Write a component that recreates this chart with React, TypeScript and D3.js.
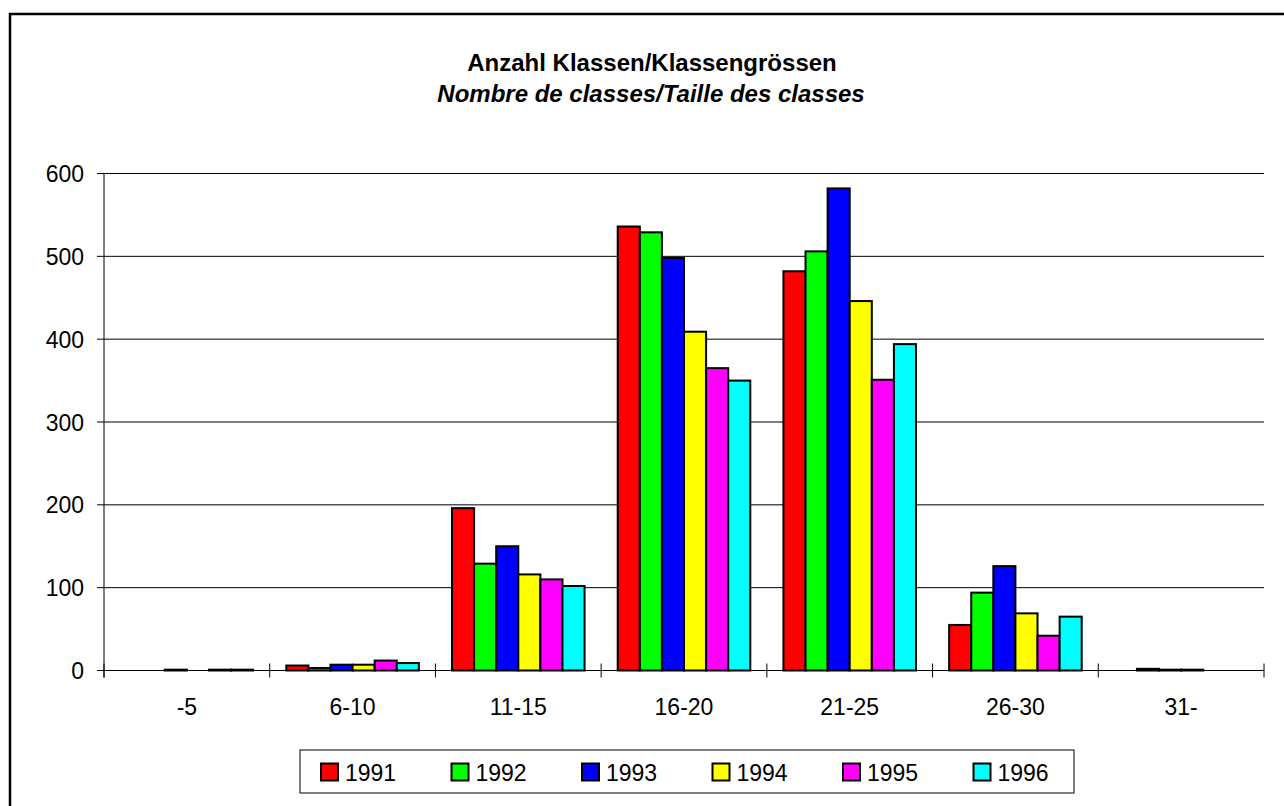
import React from 'react';
import * as d3 from 'd3';

const categories = ['-5', '6-10', '11-15', '16-20', '21-25', '26-30', '31-'];
const years = ['1991', '1992', '1993', '1994', '1995', '1996'];
const colors = ['#ff0000', '#00ff00', '#0000ff', '#ffff00', '#ff00ff', '#00ffff'];

const v1991 = [0, 6, 196, 536, 482, 55, 0];
const v1992 = [0, 3, 129, 529, 506, 94, 2];
const v1993 = [1, 7, 150, 498, 582, 126, 1];
const v1994 = [0, 7, 116, 409, 446, 69, 1];
const v1995 = [1, 12, 110, 365, 351, 42, 0];
const v1996 = [1, 9, 102, 350, 394, 65, 0];
const series = [v1991, v1992, v1993, v1994, v1995, v1996];
const yTicks = [0, 100, 200, 300, 400, 500, 600];

const W = 1284;
const H = 806;
const left = 104;
const right = 1264;
const top = 173.5;
const bottom = 670.5;
const font = 'Liberation Sans, Arial, Helvetica, sans-serif';
const fs = 23;

const App: React.FC = () => {
  const x0 = d3.scaleBand<string>().domain(categories).range([left, right]).padding(0);
  const bw = x0.bandwidth();
  const inset = bw * 0.1;
  const x1 = d3.scaleBand<string>().domain(years).range([inset, bw - inset]).padding(0);
  const y = d3.scaleLinear().domain([0, 600]).range([bottom, top]);

  const boundaries = categories.map(c => x0(c)!).concat([right]);

  const legendX = 300;
  const legendStep = 130.5;

  return (
    <svg width={W} height={H} style={{ position: 'absolute', left: 0, top: 0, background: '#fff' }}>
      <rect x={10} y={14} width={W + 20} height={H + 20} fill="#fff" stroke="#000" strokeWidth={2.5} />

      <text x={652} y={71} textAnchor="middle" fontFamily={font} fontSize={24} fontWeight="bold">
        Anzahl Klassen/Klassengrössen
      </text>
      <text x={651} y={102} textAnchor="middle" fontFamily={font} fontSize={24} fontWeight="bold" fontStyle="italic">
        Nombre de classes/Taille des classes
      </text>

      {yTicks.map(t => (
        <g key={t}>
          {t > 0 && <line x1={left} x2={right} y1={y(t)} y2={y(t)} stroke="#000" strokeWidth={1} />}
          <line x1={left - 7} x2={left} y1={y(t)} y2={y(t)} stroke="#000" strokeWidth={1} />
          <text x={84} y={y(t) + 8.5} textAnchor="end" fontFamily={font} fontSize={fs}>{t}</text>
        </g>
      ))}

      {categories.map((c, ci) => (
        <g key={c} transform={`translate(${x0(c)},0)`}>
          {series.map((s, si) =>
            s[ci] > 0 ? (
              <rect
                key={years[si]}
                x={x1(years[si])}
                y={y(s[ci])}
                width={x1.bandwidth()}
                height={bottom - y(s[ci])}
                fill={colors[si]}
                stroke="#000"
                strokeWidth={2}
              />
            ) : null
          )}
          <text x={bw / 2} y={715} textAnchor="middle" fontFamily={font} fontSize={fs}>{c}</text>
        </g>
      ))}

      <line x1={left} x2={left} y1={top} y2={bottom + 7} stroke="#000" strokeWidth={1} />
      <line x1={left} x2={right} y1={bottom} y2={bottom} stroke="#000" strokeWidth={1} />
      {boundaries.map((b, i) => (
        <line key={i} x1={b} x2={b} y1={bottom - 7} y2={bottom + 7} stroke="#000" strokeWidth={1} />
      ))}

      <rect x={legendX} y={750} width={774} height={43} fill="#fff" stroke="#000" strokeWidth={1} />
      {years.map((yr, i) => (
        <g key={yr} transform={`translate(${legendX + 21 + i * legendStep},0)`}>
          <rect x={0} y={763.5} width={17} height={17} fill={colors[i]} stroke="#000" strokeWidth={2} />
          <text x={24} y={781} fontFamily={font} fontSize={fs}>{yr}</text>
        </g>
      ))}
    </svg>
  );
};

export default App;
